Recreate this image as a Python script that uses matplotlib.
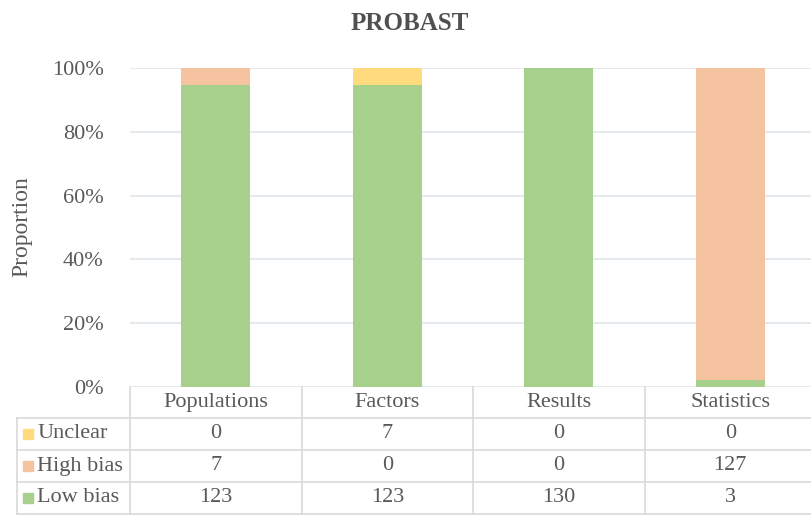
import matplotlib.pyplot as plt
from matplotlib.patches import Rectangle
from matplotlib.transforms import blended_transform_factory

plt.rcParams['font.family'] = ['Liberation Serif', 'DejaVu Serif']

# PROBAST domain ratings (number of studies)
domains = ["Populations", "Factors", "Results", "Statistics"]
low_bias = [123, 123, 130, 3]
high_bias = [7, 0, 0, 127]
unclear = [0, 7, 0, 0]

series_colors = ["#A8D08D", "#F5C3A0", "#FFDB7E"]
text_color = "#595959"
grid_color = "#E6E9EE"
line_color = "#D9D9D9"

W, H = 811, 517
fig = plt.figure(figsize=(W / 100, H / 100), dpi=100)

# plot area in pixel coordinates
px_left, px_right, px_top, px_bottom = 130, 816, 68, 387
ax = fig.add_axes([px_left / W, 1 - px_bottom / H,
                   (px_right - px_left) / W, (px_bottom - px_top) / H])

totals = [l + h + u for l, h, u in zip(low_bias, high_bias, unclear)]
series = [low_bias, high_bias, unclear]
bottoms = [0.0] * len(domains)
x = list(range(len(domains)))
for vals, color in zip(series, series_colors):
    frac = [v / t for v, t in zip(vals, totals)]
    ax.bar(x, frac, 0.4, bottom=bottoms, color=color, zorder=3)
    bottoms = [b + f for b, f in zip(bottoms, frac)]

ax.set_xlim(-0.5, len(domains) - 0.5)
ax.set_ylim(0, 1)
ax.set_yticks([0, 0.2, 0.4, 0.6, 0.8, 1.0])
ax.set_yticklabels(["0%", "20%", "40%", "60%", "80%", "100%"])
ax.tick_params(axis='y', length=0, pad=19, labelsize=16, labelcolor=text_color)
ax.set_xticks([])
ax.grid(axis='y', color=grid_color, linewidth=1.5, zorder=0)
for s in ax.spines.values():
    s.set_visible(False)

fig.text(410 / W, 1 - 23 / H, "PROBAST", fontsize=18, fontweight='bold',
         color="#505050", ha='center', va='center')
fig.text(22 / W, 1 - 227 / H, "Proportion", rotation=90, fontsize=17,
         color=text_color, ha='center', va='center')

# data table under the bars
ax_h = px_bottom - px_top
row_edges = [387, 418, 450, 482, 514]


def yfrac(py):
    return (px_bottom - py) / ax_h


tr = blended_transform_factory(ax.transData, ax.transAxes)
lkw = dict(color=line_color, linewidth=1.2, clip_on=False)

# horizontal rules
table_left = (17 - px_left) / (px_right - px_left)
for py in row_edges[1:]:
    ax.plot([table_left, 1], [yfrac(py)] * 2, transform=ax.transAxes, **lkw)
# vertical rules
ax.plot([table_left] * 2, [yfrac(row_edges[1]), yfrac(row_edges[-1])],
        transform=ax.transAxes, **lkw)
for i in range(len(domains)):
    ax.plot([i - 0.5] * 2, [yfrac(row_edges[0]), yfrac(row_edges[-1])],
            transform=tr, **lkw)

row_mid = [yfrac((a + b) / 2) for a, b in zip(row_edges[:-1], row_edges[1:])]
for i, d in enumerate(domains):
    ax.text(i, row_mid[0], d, transform=tr, ha='center', va='center',
            fontsize=16, color=text_color)

table_rows = [("Unclear", unclear, series_colors[2]),
              ("High bias", high_bias, series_colors[1]),
              ("Low bias", low_bias, series_colors[0])]
for r, (name, vals, color) in enumerate(table_rows):
    ym = row_mid[r + 1]
    py_mid = (row_edges[r + 1] + row_edges[r + 2]) / 2
    fig.patches.append(Rectangle((23 / W, 1 - (py_mid + 5) / H), 10 / W, 10 / H,
                                 transform=fig.transFigure, color=color))
    fig.text(37 / W, 1 - py_mid / H, name, fontsize=16, color=text_color,
             ha='left', va='center')
    for i, v in enumerate(vals):
        ax.text(i, ym, str(v), transform=tr, ha='center', va='center',
                fontsize=16, color=text_color)

fig.savefig("out.png", dpi=100)
